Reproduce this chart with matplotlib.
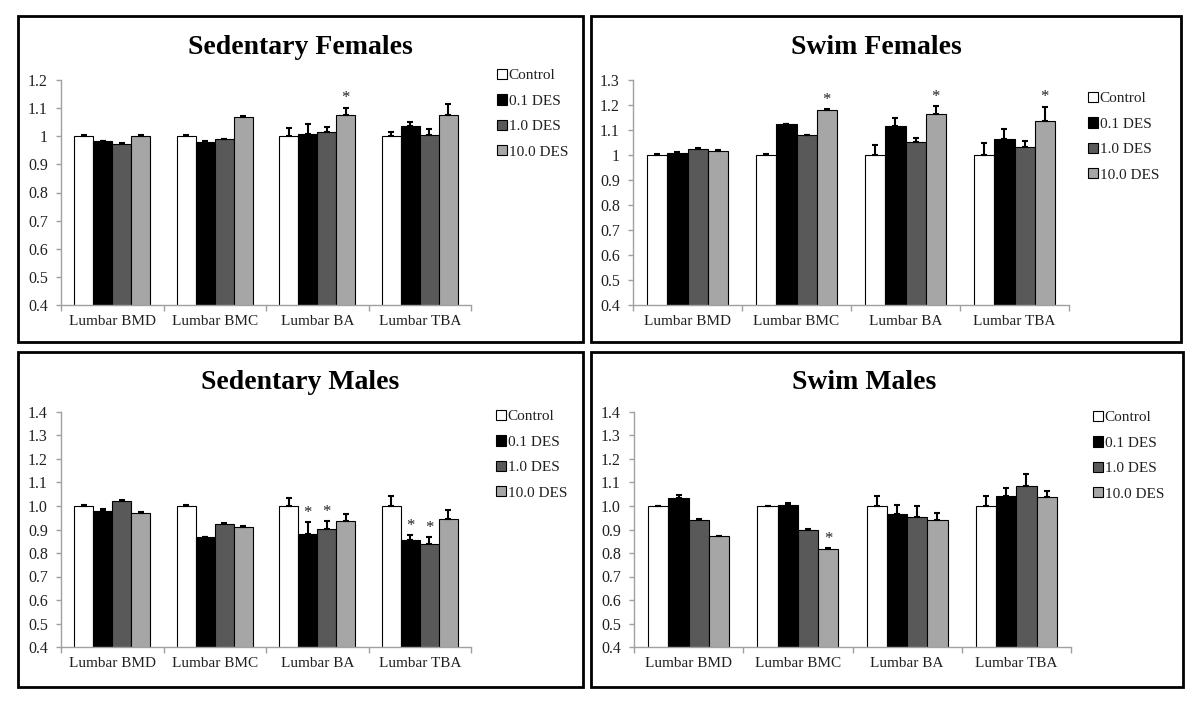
import matplotlib
matplotlib.use("Agg")
import matplotlib.pyplot as plt
from matplotlib.patches import Rectangle
import numpy as np

plt.rcParams['font.family'] = ['Liberation Serif', 'DejaVu Serif']

# ---------------- data ----------------
categories = ["Lumbar BMD", "Lumbar BMC", "Lumbar BA", "Lumbar TBA"]
groups = ["Control", "0.1 DES", "1.0 DES", "10.0 DES"]
group_colors = ["#ffffff", "#000000", "#595959", "#a6a6a6"]

# Sedentary Females
sf_control = [1.000, 1.000, 1.000, 1.000]
sf_des01 = [0.983, 0.981, 1.008, 1.036]
sf_des10 = [0.973, 0.991, 1.016, 1.004]
sf_des100 = [1.000, 1.069, 1.075, 1.075]
sf_control_err = [0.006, 0.003, 0.029, 0.016]
sf_des01_err = [0.001, 0.001, 0.037, 0.016]
sf_des10_err = [0.003, 0.001, 0.018, 0.022]
sf_des100_err = [0.004, 0.004, 0.027, 0.041]
sf_stars = [(2, 3)]  # (category index, group index)

# Swim Females
swf_control = [1.000, 1.000, 1.000, 1.000]
swf_des01 = [1.008, 1.126, 1.115, 1.063]
swf_des10 = [1.023, 1.079, 1.053, 1.031]
swf_des100 = [1.016, 1.180, 1.166, 1.138]
swf_control_err = [0.004, 0.003, 0.040, 0.050]
swf_des01_err = [0.005, 0.000, 0.035, 0.040]
swf_des10_err = [0.004, 0.003, 0.017, 0.024]
swf_des100_err = [0.004, 0.003, 0.031, 0.056]
swf_stars = [(1, 3), (2, 3), (3, 3)]

# Sedentary Males
sm_control = [1.000, 1.000, 1.000, 1.000]
sm_des01 = [0.979, 0.868, 0.880, 0.855]
sm_des10 = [1.023, 0.922, 0.902, 0.837]
sm_des100 = [0.972, 0.912, 0.938, 0.943]
sm_control_err = [0.005, 0.005, 0.033, 0.043]
sm_des01_err = [0.010, 0.002, 0.052, 0.020]
sm_des10_err = [0.004, 0.004, 0.034, 0.033]
sm_des100_err = [0.003, 0.003, 0.029, 0.039]
sm_stars = [(2, 1), (2, 2), (3, 1), (3, 2)]

# Swim Males
swm_control = [1.000, 1.000, 1.000, 1.000]
swm_des01 = [1.036, 1.006, 0.964, 1.041]
swm_des10 = [0.940, 0.899, 0.954, 1.083]
swm_des100 = [0.873, 0.819, 0.942, 1.040]
swm_control_err = [0.002, 0.001, 0.041, 0.041]
swm_des01_err = [0.012, 0.007, 0.042, 0.036]
swm_des10_err = [0.003, 0.003, 0.046, 0.055]
swm_des100_err = [0.001, 0.001, 0.028, 0.023]
swm_stars = [(1, 3)]

yticks_f1 = [0.4, 0.5, 0.6, 0.7, 0.8, 0.9, 1.0, 1.1, 1.2]
yticklabels_f1 = ["0.4", "0.5", "0.6", "0.7", "0.8", "0.9", "1", "1.1", "1.2"]
yticks_f2 = [0.4, 0.5, 0.6, 0.7, 0.8, 0.9, 1.0, 1.1, 1.2, 1.3]
yticklabels_f2 = ["0.4", "0.5", "0.6", "0.7", "0.8", "0.9", "1", "1.1", "1.2", "1.3"]
yticks_m = [0.4, 0.5, 0.6, 0.7, 0.8, 0.9, 1.0, 1.1, 1.2, 1.3, 1.4]
yticklabels_m = ["0.4", "0.5", "0.6", "0.7", "0.8", "0.9", "1.0", "1.1", "1.2", "1.3", "1.4"]

titles = ["Sedentary Females", "Swim Females", "Sedentary Males", "Swim Males"]

# ---------------- layout (pixels) ----------------
W, H = 1200, 705
fig = plt.figure(figsize=(W / 100, H / 100), dpi=100)


def fx(x):
    return x / W


def fy(y):
    return 1 - y / H


def add_axes_px(x0, y0, x1, y1):
    return fig.add_axes([fx(x0), fy(y1), fx(x1 - x0), (y1 - y0) / H])


def add_frame(x0, y0, x1, y1):
    r = Rectangle((fx(x0), fy(y1)), fx(x1 - x0), (y1 - y0) / H,
                  transform=fig.transFigure, fill=False, edgecolor="black",
                  linewidth=2.0, zorder=10)
    fig.patches.append(r)


axis_gray = "#a0a0a0"
text_col = "#202020"
bar_w = 0.185


def draw_panel(ax, series, errs, stars, ylim, yticks, yticklabels):
    x = np.arange(len(categories))
    bars = []
    for gi, (vals, e) in enumerate(zip(series, errs)):
        xs = x + (gi - 1.5) * bar_w
        b = ax.bar(xs, vals, width=bar_w, bottom=0, color=group_colors[gi],
                   edgecolor="black", linewidth=0.8, zorder=2, label=groups[gi])
        bars.append(b)
        ax.errorbar(xs, vals, yerr=[np.zeros(len(e)), e], fmt="none",
                    ecolor="black", elinewidth=1.5, capsize=2.5, capthick=1.5,
                    zorder=3)
    for ci, gi in stars:
        top = series[gi][ci] + errs[gi][ci]
        ax.text(ci + (gi - 1.5) * bar_w, top + 0.004, "*", ha="center",
                va="bottom", fontsize=12, color=text_col)
    ax.set_ylim(*ylim)
    ax.set_xlim(-0.5, len(categories) - 0.5)
    ax.set_yticks(yticks)
    ax.set_yticklabels(yticklabels, fontsize=11.5, color=text_col)
    ax.set_xticks(x)
    ax.set_xticklabels(categories, fontsize=11, color=text_col)
    ax.set_xticks(np.arange(len(categories) + 1) - 0.5, minor=True)
    ax.tick_params(axis="x", which="major", length=0, pad=7)
    ax.tick_params(axis="x", which="minor", length=4, color=axis_gray, width=1)
    ax.tick_params(axis="y", length=3.5, color=axis_gray, width=1, pad=6)
    for s in ["top", "right"]:
        ax.spines[s].set_visible(False)
    for s in ["left", "bottom"]:
        ax.spines[s].set_color(axis_gray)
        ax.spines[s].set_linewidth(1.0)
    return bars


def add_legend(handles, sq_x, first_row_y):
    fig.legend(handles=handles, labels=groups, loc="upper left",
               bbox_to_anchor=(fx(sq_x), fy(first_row_y - 8)),
               bbox_transform=fig.transFigure, frameon=False,
               fontsize=11, handlelength=0.65, handleheight=0.65,
               handletextpad=0.12, labelspacing=0.78, borderpad=0,
               borderaxespad=0, labelcolor=text_col)


panels = [
    dict(frame=(18, 16, 583, 342), ax=(61, 80, 471, 305), title_x=300, title_y=54,
         series=[sf_control, sf_des01, sf_des10, sf_des100],
         errs=[sf_control_err, sf_des01_err, sf_des10_err, sf_des100_err],
         stars=sf_stars, ylim=(0.4, 1.2), yt=yticks_f1, ytl=yticklabels_f1,
         leg=(497, 77)),
    dict(frame=(591, 16, 1181, 342), ax=(633, 80, 1069, 305), title_x=876, title_y=54,
         series=[swf_control, swf_des01, swf_des10, swf_des100],
         errs=[swf_control_err, swf_des01_err, swf_des10_err, swf_des100_err],
         stars=swf_stars, ylim=(0.4, 1.3), yt=yticks_f2, ytl=yticklabels_f2,
         leg=(1088, 100)),
    dict(frame=(18, 352, 583, 687), ax=(61, 412, 471, 647), title_x=300, title_y=389,
         series=[sm_control, sm_des01, sm_des10, sm_des100],
         errs=[sm_control_err, sm_des01_err, sm_des10_err, sm_des100_err],
         stars=sm_stars, ylim=(0.4, 1.4), yt=yticks_m, ytl=yticklabels_m,
         leg=(496, 418)),
    dict(frame=(591, 352, 1183, 687), ax=(634, 412, 1071, 647), title_x=864, title_y=389,
         series=[swm_control, swm_des01, swm_des10, swm_des100],
         errs=[swm_control_err, swm_des01_err, swm_des10_err, swm_des100_err],
         stars=swm_stars, ylim=(0.4, 1.4), yt=yticks_m, ytl=yticklabels_m,
         leg=(1093, 419)),
]

for p, title in zip(panels, titles):
    add_frame(*p["frame"])
    ax = add_axes_px(*p["ax"])
    bars = draw_panel(ax, p["series"], p["errs"], p["stars"], p["ylim"],
                      p["yt"], p["ytl"])
    fig.text(fx(p["title_x"]), fy(p["title_y"]), title, ha="center",
             va="baseline", fontsize=20, fontweight="bold", color="black")
    add_legend(bars, *p["leg"])

fig.savefig("out.png", dpi=100, facecolor="white")
